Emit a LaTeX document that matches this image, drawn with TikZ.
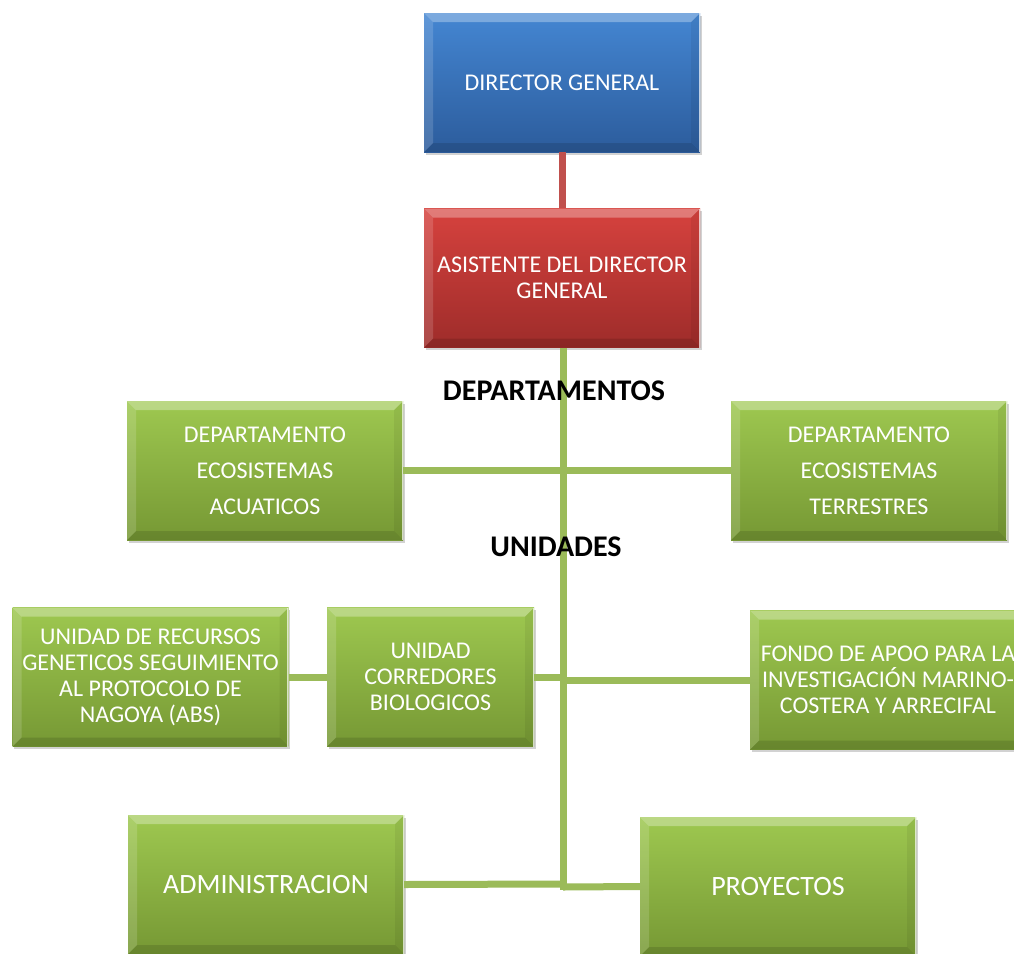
\documentclass[tikz,border=0pt]{standalone}
\usepackage{fontspec}
\setmainfont{Carlito}
\usetikzlibrary{shadows,calc}
\definecolor{bluetop}{RGB}{68,134,210}
\definecolor{bluebot}{RGB}{44,92,156}
\definecolor{redtop}{RGB}{214,66,62}
\definecolor{redbot}{RGB}{158,44,42}
\definecolor{greentop}{RGB}{158,200,80}
\definecolor{greenbot}{RGB}{118,152,52}
\definecolor{linegreen}{RGB}{155,187,89}
\definecolor{linered}{RGB}{192,80,77}

\begin{document}
\begin{tikzpicture}[x=1pt,y=-1pt,
bevel/.style = {path picture={
    \coordinate (nw) at (path picture bounding box.north west);
    \coordinate (ne) at (path picture bounding box.north east);
    \coordinate (sw) at (path picture bounding box.south west);
    \coordinate (se) at (path picture bounding box.south east);
    \fill[white, opacity=0.3] (nw) -- (ne) -- ($(ne)+(-9pt,-9pt)$) -- ($(nw)+(9pt,-9pt)$) -- cycle;
    \fill[white, opacity=0.15] (nw) -- (sw) -- ($(sw)+(9pt,9pt)$) -- ($(nw)+(9pt,-9pt)$) -- cycle;
    \fill[black, opacity=0.12] (sw) -- (se) -- ($(se)+(-9pt,9pt)$) -- ($(sw)+(9pt,9pt)$) -- cycle;
    \fill[black, opacity=0.06] (ne) -- (se) -- ($(se)+(-9pt,9pt)$) -- ($(ne)+(-9pt,-9pt)$) -- cycle;
    \draw[white, opacity=0.7, line width=1.5pt] ($(ne)+(-0.75pt,0)$) -- ($(se)+(-0.75pt,0)$);}},
box/.style = {minimum width=276pt, minimum height=139pt, inner sep=0pt,
    align=center, text=white, font=\fontsize{24}{26}\selectfont, bevel,
    drop shadow={shadow xshift=1.5pt, shadow yshift=-2.5pt, fill=black!35}},
bluebox/.style = {box, top color=bluetop, bottom color=bluebot},
redbox/.style = {box, top color=redtop, bottom color=redbot},
greenbox/.style = {box, top color=greentop, bottom color=greenbot},
wide/.style = {font=\fontsize{24}{36}\selectfont},
big/.style = {font=\fontsize{28}{30}\selectfont},
lbl/.style = {font=\fontsize{30}{32}\selectfont\bfseries, text=black, inner sep=0pt},
link/.style = {line width=7pt, draw=linegreen}]
\clip (0,0) rectangle (1014,953);
\fill[white] (0,0) rectangle (1014,953);

\node[bluebox] (dg) at (562,82.5) {DIRECTOR GENERAL};
\node[redbox] (asis) at (562,278) {ASISTENTE DEL DIRECTOR\\GENERAL};
\node[greenbox, wide] (dea) at (265,470.5) {DEPARTAMENTO\\ECOSISTEMAS\\ACUATICOS};
\node[greenbox, wide] (det) at (869,470.5) {DEPARTAMENTO\\ECOSISTEMAS\\TERRESTRES};
\node[greenbox] (urg) at (150.5,677) {UNIDAD DE RECURSOS\\GENETICOS SEGUIMIENTO\\AL PROTOCOLO DE\\NAGOYA (ABS)};
\node[greenbox, minimum width=207pt] (ucb) at (430.5,677) {UNIDAD\\CORREDORES\\BIOLOGICOS};
\node[greenbox] (fondo) at (888,680) {FONDO DE APOO PARA LA\\INVESTIGACIÓN MARINO-\\COSTERA Y ARRECIFAL};
\node[greenbox, big] (adm) at (266,884.5) {ADMINISTRACION};
\node[greenbox, big] (proy) at (778,886.5) {PROYECTOS};

\coordinate (top) at (563,348);
\coordinate (bot) at (563,890);
\coordinate (j1) at (563,677);
\coordinate (j2) at (563,680);
\coordinate (j3) at (563,884);
\coordinate (j4) at (563,887);

\draw[line width=7pt, linered] (dg.south) -- (asis.north);
\draw[link] (top) -- (bot);
\draw[link] (dea.east) -- (det.west);
\draw[link] (urg.east) -- (ucb.west);
\draw[link] (ucb.east) -- (j1);
\draw[link] (j2) -- (fondo.west);
\draw[link] (adm.east) -- (j3);
\draw[link] (j4) -- (proy.west);

\node[lbl] (dep) at (554,391) {DEPARTAMENTOS};
\node[lbl] (uni) at (556,547) {UNIDADES};
\end{tikzpicture}
\end{document}
